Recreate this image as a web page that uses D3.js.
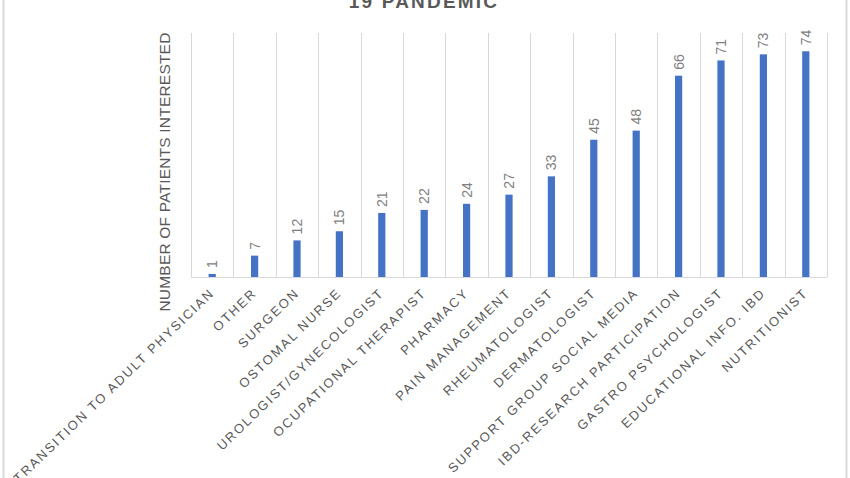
<!DOCTYPE html>
<html>
<head>
<meta charset="utf-8">
<script src="https://cdn.jsdelivr.net/npm/d3@7"></script>
<style>
  html, body { margin: 0; padding: 0; background: #fff; }
  svg { display: block; font-family: Arial, "Liberation Sans", sans-serif; }
</style>
</head>
<body>
<div id="chart"></div>
<script>
(function() {
  'use strict';

  var categories = [
    'TRANSITION TO ADULT PHYSICIAN', 'OTHER', 'SURGEON', 'OSTOMAL NURSE',
    'UROLOGIST/GYNECOLOGIST', 'OCUPATIONAL THERAPIST', 'PHARMACY',
    'PAIN MANAGEMENT', 'RHEUMATOLOGIST', 'DERMATOLOGIST',
    'SUPPORT GROUP SOCIAL MEDIA', 'IBD-RESEARCH PARTICIPATION',
    'GASTRO PSYCHOLOGIST', 'EDUCATIONAL INFO. IBD', 'NUTRITIONIST'
  ];
  var patients = [1, 7, 12, 15, 21, 22, 24, 27, 33, 45, 48, 66, 71, 73, 74];
  var yDomain = [0, 80];
  var titleText = '19 PANDEMIC';
  var yTitle = 'NUMBER OF PATIENTS INTERESTED';

  var width = 850,
    height = 478,
    left = 191,
    right = 827,
    top = 33,
    bottom = 277,
    barColor = '#4472c4',
    gridColor = '#d9d9d9',
    textColor = '#595959';

  var svg = d3.select('#chart')
    .append('svg')
    .attr('width', width)
    .attr('height', height);

  // outer chart frame (top and bottom are cropped off)
  svg.append('line')
    .attr('x1', 3.5).attr('x2', 3.5)
    .attr('y1', 0).attr('y2', height)
    .attr('stroke', '#d9d9d9').attr('stroke-width', 2);
  svg.append('line')
    .attr('x1', 846.5).attr('x2', 846.5)
    .attr('y1', 0).attr('y2', height)
    .attr('stroke', '#d9d9d9').attr('stroke-width', 2);

  var x = d3.scaleBand()
    .domain(categories)
    .range([left, right])
    .padding(0);

  var y = d3.scaleLinear()
    .domain(yDomain)
    .range([bottom, top]);

  var barWidth = x.bandwidth() * 0.17;

  // vertical gridlines on category boundaries
  var bounds = categories.map(function(c) { return x(c); }).concat([right]);
  svg.append('g')
    .selectAll('line')
    .data(bounds)
    .enter().append('line')
    .attr('x1', function(d) { return Math.round(d) + 0.5; })
    .attr('x2', function(d) { return Math.round(d) + 0.5; })
    .attr('y1', top)
    .attr('y2', bottom)
    .attr('stroke', gridColor)
    .attr('stroke-width', 1);

  // baseline
  svg.append('line')
    .attr('x1', left).attr('x2', right)
    .attr('y1', y(0) + 0.5).attr('y2', y(0) + 0.5)
    .attr('stroke', gridColor);

  var g = svg.selectAll('.bar')
    .data(patients)
    .enter().append('g')
    .attr('class', 'bar');

  g.append('rect')
    .attr('x', function(d, i) { return x(categories[i]) + x.bandwidth() / 2 - barWidth / 2; })
    .attr('y', function(d) { return y(d); })
    .attr('width', barWidth)
    .attr('height', function(d) { return y(0) - y(d); })
    .attr('fill', barColor);

  // value labels, rotated
  g.append('text')
    .attr('transform', function(d, i) {
      var cx = x(categories[i]) + x.bandwidth() / 2 + 5;
      return 'translate(' + cx + ',' + (y(d) - 6) + ') rotate(-90)';
    })
    .attr('text-anchor', 'start')
    .attr('fill', '#808080')
    .style('font-size', '14px')
    .text(function(d) { return d; });

  // category labels
  svg.append('g')
    .selectAll('text')
    .data(categories)
    .enter().append('text')
    .attr('transform', function(d) {
      var cx = x(d) + x.bandwidth() / 2 + 3;
      return 'translate(' + cx + ',' + (bottom + 17) + ') rotate(-44)';
    })
    .attr('text-anchor', 'end')
    .attr('fill', textColor)
    .style('font-size', '13px')
    .style('letter-spacing', '1.9px')
    .text(function(d) { return d; });

  // y axis title
  svg.append('text')
    .attr('transform', 'translate(170,' + 172 + ') rotate(-90)')
    .attr('text-anchor', 'middle')
    .attr('fill', textColor)
    .style('font-size', '15.5px')
    .style('letter-spacing', '0.2px')
    .text(yTitle);

  // chart title (cropped at top, as in the source screenshot)
  svg.append('text')
    .attr('x', 424)
    .attr('y', 8)
    .attr('text-anchor', 'middle')
    .attr('fill', textColor)
    .style('font-size', '19px')
    .style('font-weight', 'bold')
    .style('letter-spacing', '2.2px')
    .text(titleText);
})();
</script>
</body>
</html>
